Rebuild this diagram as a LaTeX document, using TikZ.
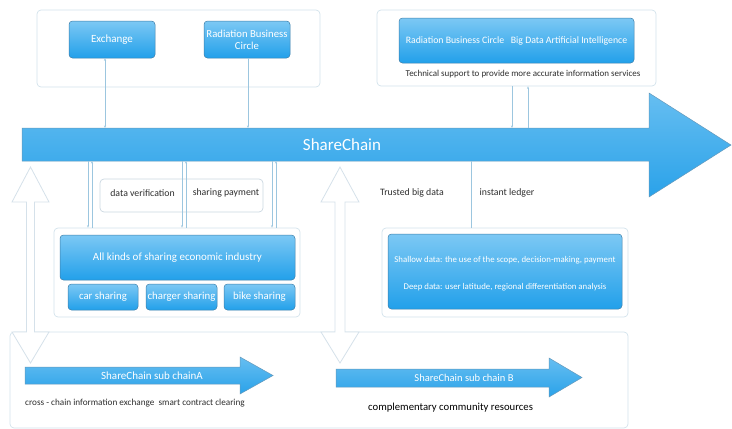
\documentclass[tikz,border=0pt]{standalone}
\usepackage{fontspec}
\setmainfont{Carlito}
\usetikzlibrary{arrows.meta,calc}
\definecolor{boxtop}{HTML}{7CC8F4}
\definecolor{boxbot}{HTML}{22A0EA}
\definecolor{arrtop}{HTML}{66BEF1}
\definecolor{arrbot}{HTML}{2AA2E9}
\definecolor{boxline}{HTML}{3F7FAA}
\definecolor{framec}{HTML}{D3E2EC}
\definecolor{connc}{HTML}{9CC6DF}
\definecolor{hollowc}{HTML}{D5E1EA}
\definecolor{txt}{HTML}{2E2E2E}
\tikzset{
  bluebox/.style={draw=boxline, line width=0.5pt, rounded corners=3.5pt, top color=boxtop, bottom color=boxbot, text=white, align=center, inner sep=1pt, minimum width=#1},
  frame/.style={draw=framec, line width=0.7pt, rounded corners=4pt, fill=white, inner sep=0pt},
  bigarrow/.style={draw=boxline!80, line width=0.5pt, top color=arrtop, bottom color=arrbot},
  conn/.style={draw=connc, line width=0.5pt, >={Stealth[length=2.5pt,width=2pt]}},
  hollow/.style={draw=hollowc, line width=0.8pt, fill=white},
  lbl/.style={text=txt, inner sep=0pt, font=\fontsize{9.8}{11}\selectfont},
}
\begin{document}
\begin{tikzpicture}[x=1pt,y=-1pt]
\useasboundingbox (0,0) rectangle (732,429);
% frames
\node[frame, minimum width=283pt, minimum height=77pt] (tlf) at (178.5,48.5) {};
\node[frame, minimum width=279pt, minimum height=76pt] (trf) at (516.5,48) {};
\node[frame, minimum width=246pt, minimum height=89pt] (indf) at (177,272.5) {};
\node[frame, minimum width=246pt, minimum height=89pt] (dataf) at (505,272.5) {};
\node[frame, minimum width=618pt, minimum height=96pt] (botf) at (319,380) {};
\node[frame, draw=framec!90!gray, minimum width=163pt, minimum height=33pt] (lblf) at (181.5,195.5) {};
% hollow double arrows
\draw[hollow] (30.5,167) -- (49,202) -- (34.5,202) -- (34.5,332) -- (49,332) -- (30.5,363) -- (12,332) -- (26.5,332) -- (26.5,202) -- (12,202) -- cycle;
\draw[hollow] (340,167) -- (359,202) -- (345,202) -- (345,332) -- (359,332) -- (340,363) -- (321,332) -- (335,332) -- (335,202) -- (321,202) -- cycle;
% main ShareChain arrow
\draw[bigarrow] (22,128) -- (649,128) -- (649,93) -- (731,145) -- (649,197) -- (649,161) -- (22,161) -- cycle;
\node[inner sep=0pt, outer sep=0pt, minimum width=627pt, minimum height=33pt] (scbar) at (335.5,144.5) {};
\node[text=white, font=\fontsize{17}{19}\selectfont] (sc) at (342,144.5) {ShareChain};
% sub chain arrows
\draw[bigarrow] (25,367) -- (240,367) -- (240,357) -- (273,375.5) -- (240,394) -- (240,384) -- (25,384) -- cycle;
\node[text=white, font=\fontsize{11}{12}\selectfont] (sca) at (152,375.5) {ShareChain sub chainA};
\draw[bigarrow] (336,369) -- (549,369) -- (549,358) -- (582,377.5) -- (549,397) -- (549,387) -- (336,387) -- cycle;
\node[text=white, font=\fontsize{10.5}{12}\selectfont] (scb) at (464,378) {ShareChain sub chain B};
% blue boxes
\node[bluebox=86pt, minimum height=37pt, font=\fontsize{11}{12.5}\selectfont] (exch) at (112,39.5) {Exchange};
\node[bluebox=86pt, minimum height=37pt, font=\fontsize{10.7}{12}\selectfont] (rad) at (247,39.5) {Radiation Business\\Circle};
\node[bluebox=235pt, minimum height=45pt, font=\fontsize{9.8}{11}\selectfont] (bd) at (516.5,40.5) {Radiation Business Circle \ \ Big Data Artificial Intelligence};
\node[lbl, font=\fontsize{9}{10}\selectfont] (tech) at (523,74) {Technical support to provide more accurate information services};
\node[bluebox=235pt, minimum height=45pt, font=\fontsize{11}{12.5}\selectfont] (ind) at (177.5,257.5) {All kinds of sharing economic industry};
\node[bluebox=70pt, minimum height=26pt, font=\fontsize{10.8}{12}\selectfont] (car) at (103,297) {car sharing};
\node[bluebox=71pt, minimum height=26pt, font=\fontsize{10.8}{12}\selectfont] (chg) at (181.5,297) {charger sharing};
\node[bluebox=71pt, minimum height=26pt, font=\fontsize{10.8}{12}\selectfont] (bike) at (259.5,297) {bike sharing};
\node[bluebox=234pt, minimum height=75pt] (data) at (505,271.5) {};
\node[text=white, inner sep=0pt, font=\fontsize{8.8}{10}\selectfont] (shallow) at (505,260) {Shallow data: the use of the scope, decision-making, payment};
\node[text=white, inner sep=0pt, font=\fontsize{8.8}{10}\selectfont] (deep) at (505,287) {Deep data: user latitude, regional differentiation analysis};
% labels
\node[lbl] (dv) at (142.5,193) {data verification};
\node[lbl] (sp) at (226,193) {sharing payment};
\node[lbl] (tbd) at (412,193) {Trusted big data};
\node[lbl] (il) at (507,193) {instant ledger};
\node[lbl, anchor=west, font=\fontsize{9.2}{10}\selectfont] (cross) at (25,403) {cross - chain information exchange \ smart contract clearing};
\node[lbl, anchor=west, font=\fontsize{10.7}{12}\selectfont, text=black] (comp) at (368,408) {complementary community resources};
% connectors
\draw[conn,<->] ([xshift=-7pt]exch.south) -- ([xshift=-7pt]exch.south |- scbar.north);
\draw[conn,->] ([xshift=1pt]rad.south) -- ([xshift=1pt]rad.south |- scbar.north);
\draw[conn,->] ([xshift=-4.5pt]trf.south) -- ([xshift=-4.5pt]trf.south |- scbar.north);
\draw[conn,<-] ([xshift=11.5pt]trf.south) -- ([xshift=11.5pt]trf.south |- scbar.north);
\draw[conn,->] ([xshift=-89pt]scbar.south -| indf.north) -- ([xshift=-89pt]indf.north);
\draw[conn,<-] ([xshift=-85pt]scbar.south -| indf.north) -- ([xshift=-85pt]indf.north);
\draw[conn,->] ([xshift=5pt]scbar.south -| indf.north) -- ([xshift=5pt]indf.north);
\draw[conn,<-] ([xshift=9pt]scbar.south -| indf.north) -- ([xshift=9pt]indf.north);
\draw[conn,->] ([xshift=95pt]scbar.south -| indf.north) -- ([xshift=95pt]indf.north);
\draw[conn,<-] ([xshift=99pt]scbar.south -| indf.north) -- ([xshift=99pt]indf.north);
\draw[conn] ([xshift=-34pt]scbar.south -| dataf.north) -- ([xshift=-34pt]dataf.north);
\end{tikzpicture}
\end{document}
